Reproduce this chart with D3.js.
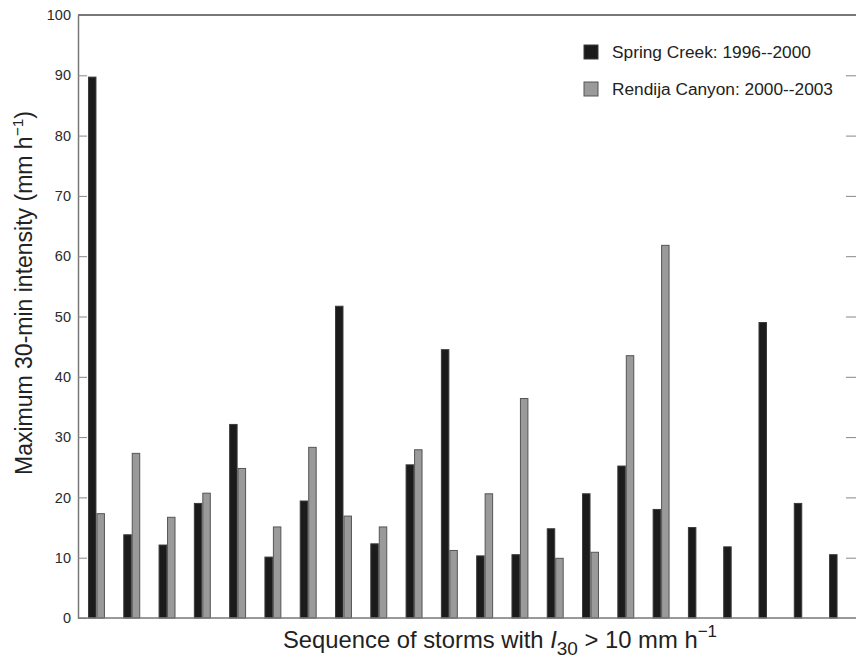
<!DOCTYPE html>
<html>
<head>
<meta charset="utf-8">
<script src="https://cdn.jsdelivr.net/npm/d3@7"></script>
<style>
  body { margin: 0; background: #fff; }
  svg { display: block; font-family: "Liberation Sans", Arial, Helvetica, sans-serif; }
</style>
</head>
<body>
<svg id="chart" width="856" height="661"></svg>
<script>
// storm sequence (x categories)
var storms = [1, 2, 3, 4, 5, 6, 7, 8, 9, 10, 11, 12, 13, 14, 15, 16, 17, 18, 19, 20, 21, 22];
// max 30-min intensity, mm/h
var springCreek = [89.7, 13.8, 12.1, 19.0, 32.1, 10.1, 19.4, 51.7, 12.3, 25.4, 44.5,
                   10.3, 10.5, 14.8, 20.6, 25.2, 18.0, 15.0, 11.8, 49.0, 19.0, 10.5];
var rendija = [17.3, 27.3, 16.7, 20.7, 24.8, 15.1, 28.3, 16.9, 15.1, 27.9, 11.2,
               20.6, 36.4, 9.9, 10.9, 43.5, 61.8, null, null, null, null, null];
var seriesNames = ["Spring Creek: 1996--2000", "Rendija Canyon: 2000--2003"];
var yTicks = [0, 10, 20, 30, 40, 50, 60, 70, 80, 90, 100];

var margin = {top: 15, right: 0, bottom: 43, left: 78},
    width = 856 - margin.left - margin.right,
    height = 661 - margin.top - margin.bottom;

var svg = d3.select("#chart");
var g = svg.append("g").attr("transform", "translate(" + margin.left + "," + margin.top + ")");

var x = d3.scaleBand()
    .domain(storms)
    .range([0, width])
    .paddingInner(0.52)
    .paddingOuter(0.283);

var xs = d3.scaleBand()
    .domain([0, 1])
    .range([0, x.bandwidth()]);

var y = d3.scaleLinear()
    .domain([0, 100])
    .range([height, 0]);

var fills = ["#1b1b1b", "#9a9a9a"],
    strokes = ["#3a3a3a", "#555"];

// bars
var rows = storms.map(function(s, i) {
  return [{s: s, k: 0, v: springCreek[i]}, {s: s, k: 1, v: rendija[i]}];
});

var grp = g.selectAll(".storm")
    .data(rows)
  .enter().append("g")
    .attr("class", "storm")
    .attr("transform", function(d) { return "translate(" + x(d[0].s) + ",0)"; });

grp.selectAll("rect")
    .data(function(d) { return d.filter(function(e) { return e.v != null; }); })
  .enter().append("rect")
    .attr("x", function(d) { return xs(d.k) + 0.5; })
    .attr("width", xs.bandwidth() - 1)
    .attr("y", function(d) { return y(d.v); })
    .attr("height", function(d) { return height - y(d.v); })
    .attr("fill", function(d) { return fills[d.k]; })
    .attr("stroke", function(d) { return strokes[d.k]; })
    .attr("stroke-width", 1);

// left axis, ticks inside
var yAxis = g.append("g")
    .call(d3.axisLeft(y).tickValues(yTicks).tickSizeInner(-9).tickSizeOuter(0).tickPadding(7));
yAxis.select(".domain").attr("stroke", "#777").attr("stroke-width", 1.5);
yAxis.selectAll(".tick line").attr("stroke", "#888");
yAxis.selectAll(".tick text")
    .attr("font-size", 14.5)
    .attr("fill", "#2a2a2a");

// right side ticks (frame edge sits just off the picture)
var yRight = g.append("g")
    .attr("transform", "translate(" + (width + 1) + ",0)")
    .call(d3.axisRight(y).tickValues(yTicks.slice(1, -1)).tickSizeInner(-11).tickSizeOuter(0).tickFormat(""));
yRight.select(".domain").attr("stroke", "#777");
yRight.selectAll(".tick line").attr("stroke", "#888");

// top and bottom frame lines
g.append("line")
    .attr("x1", 0).attr("x2", width)
    .attr("y1", y(100)).attr("y2", y(100))
    .attr("stroke", "#777").attr("stroke-width", 2);
g.append("line")
    .attr("x1", 0).attr("x2", width)
    .attr("y1", y(0)).attr("y2", y(0))
    .attr("stroke", "#777").attr("stroke-width", 1.5);

// legend
var legend = g.selectAll(".legend")
    .data(seriesNames)
  .enter().append("g")
    .attr("class", "legend")
    .attr("transform", function(d, i) { return "translate(506," + (30 + i * 37) + ")"; });

legend.append("rect")
    .attr("width", 14).attr("height", 14)
    .attr("fill", function(d, i) { return fills[i]; })
    .attr("stroke", function(d, i) { return strokes[i]; });

legend.append("text")
    .attr("x", 28).attr("y", 12.5)
    .attr("font-size", 17.3)
    .attr("fill", "#222")
    .text(function(d) { return d; });

// y label
var yl = svg.append("text")
    .attr("transform", "translate(32,293) rotate(-90)")
    .attr("text-anchor", "middle")
    .attr("font-size", 23)
    .attr("fill", "#222");
yl.append("tspan").text("Maximum 30-min intensity (mm h");
yl.append("tspan").attr("dy", -9).attr("font-size", 15.5).text("\u22121");
yl.append("tspan").attr("dy", 9).text(")");

// x label
var xl = svg.append("text")
    .attr("x", 500).attr("y", 648)
    .attr("text-anchor", "middle")
    .attr("font-size", 23.8)
    .attr("fill", "#222");
xl.append("tspan").text("Sequence of storms with ");
xl.append("tspan").attr("font-style", "italic").text("I");
xl.append("tspan").attr("dy", 7).attr("font-size", 19).text("30");
xl.append("tspan").attr("dy", -7).text(" > 10 mm h");
xl.append("tspan").attr("dy", -11).attr("font-size", 17).text("\u22121");
</script>
</body>
</html>
